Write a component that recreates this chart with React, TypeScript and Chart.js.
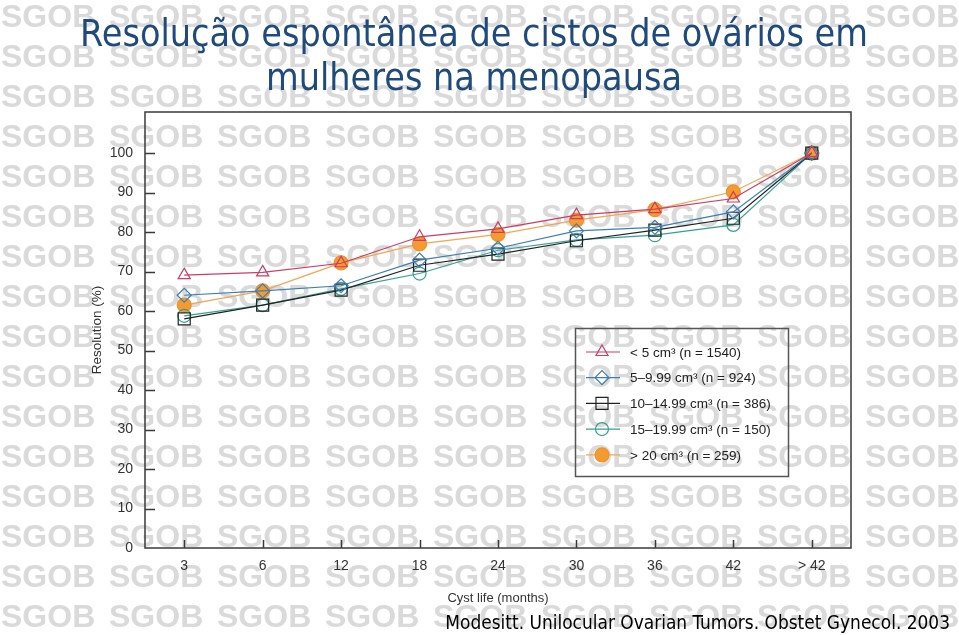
import React, { useEffect, useRef } from 'react';
import { Chart, registerables } from 'chart.js';
import { drawPoint } from 'chart.js/helpers';

Chart.register(...registerables);

// ---------- data ----------
const titleLines = ['Resolução espontânea de cistos de ovários em', 'mulheres na menopausa'];
const footerText = 'Modesitt. Unilocular Ovarian Tumors. Obstet Gynecol. 2003';
const xAxisTitle = 'Cyst life (months)';
const yAxisTitle = 'Resolution (%)';
const watermarkText = 'SGOB';

const months = ['3', '6', '12', '18', '24', '30', '36', '42', '> 42'];
const yTickValues = [0, 10, 20, 30, 40, 50, 60, 70, 80, 90, 100];

const seriesLabels = [
  '< 5 cm³ (n = 1540)',
  '5–9.99 cm³ (n = 924)',
  '10–14.99 cm³ (n = 386)',
  '15–19.99 cm³ (n = 150)',
  '> 20 cm³ (n = 259)',
];
const under5 = [69.1, 69.8, 72.1, 78.8, 80.8, 84.3, 85.8, 88.5, 100];
const from5to10 = [64.0, 65.1, 66.4, 72.9, 75.9, 80.3, 81.2, 85.1, 100];
const from10to15 = [58.0, 61.5, 65.3, 71.6, 74.4, 77.8, 80.5, 83.5, 100];
const from15to20 = [58.8, 61.5, 65.6, 69.5, 75.4, 78.0, 79.2, 81.8, 100];
const over20 = [61.5, 65.1, 72.2, 77.0, 79.4, 83.0, 85.7, 90.2, 100];
const seriesValues = [under5, from5to10, from10to15, from15to20, over20];

// ---------- styles ----------
const seriesStyles = [
  { line: '#cc3d63', marker: '#cc3d63', fill: 'rgba(0,0,0,0)', pointStyle: 'triangle', radius: 7 },
  { line: '#3b7fb6', marker: '#3b7fb6', fill: 'rgba(0,0,0,0)', pointStyle: 'rectRot', radius: 7 },
  { line: '#222222', marker: '#222222', fill: 'rgba(0,0,0,0)', pointStyle: 'rect', radius: 8.5 },
  { line: '#33a192', marker: '#33a192', fill: 'rgba(0,0,0,0)', pointStyle: 'circle', radius: 6.5 },
  { line: '#f3a552', marker: '#f0922a', fill: '#f39a30', pointStyle: 'circle', radius: 7 },
];

const TITLE_COLOR = '#1f4a7d';
const TITLE_FONT = 'Tahoma, "DejaVu Sans Condensed", "DejaVu Sans", sans-serif';
const LABEL_FONT = '"Liberation Sans", Arial, sans-serif';

function fittedSize(ctx: CanvasRenderingContext2D, text: string, family: string, target: number) {
  ctx.font = `40px ${family}`;
  const w = ctx.measureText(text).width;
  return (40 * target) / w;
}

const decorPlugin = {
  id: 'decor',
  beforeDraw(chart: any) {
    const ctx: CanvasRenderingContext2D = chart.ctx;
    ctx.save();
    ctx.fillStyle = '#ffffff';
    ctx.fillRect(0, 0, chart.width, chart.height);
    ctx.font = `bold 32px ${LABEL_FONT}`;
    ctx.fillStyle = '#dadada';
    ctx.textBaseline = 'alphabetic';
    ctx.textAlign = 'left';
    for (let j = 0; j < 16; j++) {
      for (let k = 0; k < 9; k++) {
        ctx.fillText(watermarkText, 1 + k * 108, 26.5 + j * 40);
      }
    }
    ctx.restore();
  },
  beforeDatasetsDraw(chart: any) {
    const ctx: CanvasRenderingContext2D = chart.ctx;
    const a = chart.chartArea;
    const { x, y } = chart.scales;
    ctx.save();
    ctx.strokeStyle = '#3a3a3a';
    ctx.lineWidth = 1.5;
    ctx.strokeRect(a.left, a.top, a.right - a.left, a.bottom - a.top);
    ctx.beginPath();
    for (const v of yTickValues) {
      if (v === 0) continue;
      const py = Math.round(y.getPixelForValue(v)) + 0.5;
      ctx.moveTo(a.left, py);
      ctx.lineTo(a.left + 10, py);
    }
    months.forEach((_, i) => {
      const px = Math.round(x.getPixelForValue(i)) + 0.5;
      ctx.moveTo(px, a.bottom);
      ctx.lineTo(px, a.bottom - 8);
    });
    ctx.stroke();
    ctx.restore();
  },
  afterDraw(chart: any) {
    const ctx: CanvasRenderingContext2D = chart.ctx;
    ctx.save();
    // title
    const tSize = fittedSize(ctx, titleLines[0], TITLE_FONT, 788);
    ctx.font = `${tSize}px ${TITLE_FONT}`;
    ctx.fillStyle = TITLE_COLOR;
    ctx.textAlign = 'center';
    ctx.textBaseline = 'alphabetic';
    ctx.fillText(titleLines[0], 474, 46);
    ctx.fillText(titleLines[1], 474, 90);
    // footer
    const fSize = fittedSize(ctx, footerText, TITLE_FONT, 505);
    ctx.font = `${fSize}px ${TITLE_FONT}`;
    ctx.fillStyle = '#000000';
    ctx.textAlign = 'right';
    ctx.fillText(footerText, 950, 629);
    // legend
    ctx.strokeStyle = '#555555';
    ctx.lineWidth = 1.5;
    ctx.strokeRect(575.5, 328.5, 213, 148);
    ctx.font = `13.5px ${LABEL_FONT}`;
    ctx.textAlign = 'left';
    ctx.textBaseline = 'middle';
    seriesLabels.forEach((label, i) => {
      const st = seriesStyles[i];
      const cy = 352 + i * 25.7;
      ctx.strokeStyle = st.line;
      ctx.lineWidth = 1.2;
      ctx.beginPath();
      ctx.moveTo(586, cy);
      ctx.lineTo(620, cy);
      ctx.stroke();
      ctx.fillStyle = st.fill;
      ctx.strokeStyle = st.marker;
      drawPoint(ctx, { pointStyle: st.pointStyle as any, rotation: 0, radius: st.radius, borderWidth: 1.2 }, 602, cy);
      ctx.fillStyle = '#222222';
      ctx.fillText(label, 630, cy + 1);
    });
    ctx.restore();
  },
};

export default function App() {
  const canvasRef = useRef<HTMLCanvasElement>(null);
  useEffect(() => {
    document.body.style.margin = '0';
    const datasets = seriesValues.map((vals, i) => ({
      label: seriesLabels[i],
      data: vals,
      borderColor: seriesStyles[i].line,
      borderWidth: 1.2,
      pointStyle: seriesStyles[i].pointStyle as any,
      pointRadius: seriesStyles[i].radius,
      pointBorderColor: seriesStyles[i].marker,
      pointBackgroundColor: seriesStyles[i].fill,
      pointBorderWidth: 1.2,
      tension: 0,
      fill: false,
    }));
    const chart = new Chart(canvasRef.current!, {
      type: 'line',
      data: { labels: months, datasets },
      options: {
        responsive: false,
        animation: false,
        layout: { padding: { top: 112, right: 108, left: 0, bottom: 0 } },
        plugins: {
          legend: { display: false },
          title: { display: false },
          tooltip: { enabled: false },
        },
        scales: {
          x: {
            type: 'category',
            offset: true,
            grid: { display: false, drawTicks: false },
            border: { display: false },
            ticks: { color: '#333333', padding: 10, font: { family: LABEL_FONT, size: 14 } },
            title: {
              display: true,
              text: xAxisTitle,
              color: '#333333',
              font: { family: LABEL_FONT, size: 13 },
              padding: { top: 0, bottom: 29 },
            },
            afterFit: (s: any) => {
              s.height = 87;
            },
          },
          y: {
            type: 'linear',
            min: 0,
            max: 110.4,
            grid: { display: false, drawTicks: false },
            border: { display: false },
            ticks: {
              stepSize: 10,
              color: '#333333',
              padding: 12,
              font: { family: LABEL_FONT, size: 14 },
              callback: (v: any) => (yTickValues.includes(Number(v)) ? String(v) : ''),
            },
            title: {
              display: true,
              text: yAxisTitle,
              color: '#333333',
              font: { family: LABEL_FONT, size: 13.5 },
              padding: { top: 89, bottom: 0 },
            },
            afterFit: (s: any) => {
              s.width = 145;
            },
          },
        },
      },
      plugins: [decorPlugin],
    });
    return () => chart.destroy();
  }, []);
  return (
    <div style={{ position: 'absolute', left: 0, top: 0, width: 959, height: 635 }}>
      <canvas ref={canvasRef} width={959} height={635} style={{ display: 'block' }} />
    </div>
  );
}
